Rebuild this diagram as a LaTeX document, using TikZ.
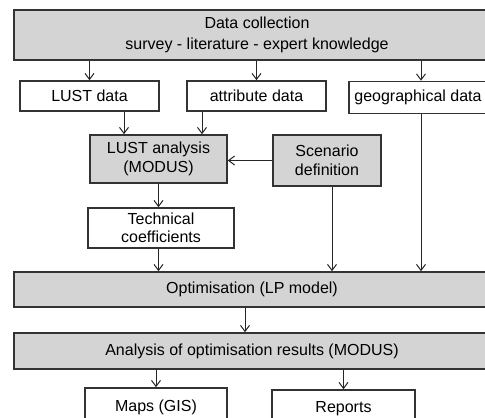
\documentclass[tikz,border=0pt]{standalone}
\usepackage{fontspec}
\setmainfont{Liberation Sans}
\usetikzlibrary{arrows.meta, positioning}

\begin{document}
\begin{tikzpicture}[x=1pt, y=-1pt, >={Straight Barb[length=6pt,width=9pt]}]
\tikzstyle{every node}=[font=\fontsize{16}{19}\selectfont, text=black]
\tikzstyle{box}=[draw=black!80, line width=1.6pt, rectangle, align=center, fill=white, inner sep=0pt]
\tikzstyle{greybox}=[box, fill=black!17]
\tikzstyle{flow}=[->, line width=1pt, color=black!85]
\useasboundingbox (0,0) rectangle (485,418);
\clip (0,0) rectangle (485,418);

\node[greybox, minimum width=486pt, minimum height=50pt, font=\fontsize{16}{21.5}\selectfont]	(data) at (257,35) {Data collection\\survey - literature - expert knowledge};
\node[box, minimum width=139pt, minimum height=30pt]	(lust) at (89.5,96) {LUST data};
\node[box, minimum width=139pt, minimum height=30pt]	(attr) at (256.5,96) {attribute data};
\node[box, minimum width=138pt, minimum height=32pt]	(geo) at (418,97.5) {geographical data};
\node[greybox, minimum width=137pt, minimum height=48pt]	(ana) at (158.5,159) {LUST analysis\\(MODUS)};
\node[greybox, minimum width=108pt, minimum height=51pt]	(scen) at (327,160.5) {Scenario\\definition};
\node[box, minimum width=146pt, minimum height=40pt, font=\fontsize{16}{18}\selectfont]	(tech) at (161,228) {Technical\\coefficients};
\node[greybox, minimum width=476pt, minimum height=35pt]	(opt) at (252,289.5) {Optimisation (LP model)};
\node[greybox, minimum width=476pt, minimum height=36pt]	(res) at (252,351) {Analysis of optimisation results (MODUS)};
\node[box, minimum width=142pt, minimum height=38pt]	(maps) at (156,407) {Maps (GIS)};
\node[box, minimum width=143pt, minimum height=38pt]	(rep) at (343.5,409) {Reports};

% feet of the arrows that leave a box off its centre
\coordinate (lustout) at ([xshift=34.5pt]lust.south);
\coordinate (attrout) at ([xshift=-54.5pt]attr.south);
\coordinate (scenout) at ([xshift=5pt]scen.south);
\coordinate (geoout) at ([xshift=3pt]geo.south);
\coordinate (optout) at ([xshift=-7pt]opt.south);

\path[flow]
(data.south -| lust) edge		(lust.north)
(data.south -| attr) edge		(attr.north)
(data.south -| geoout) edge		(geoout |- geo.north)
(lustout) edge		(lustout |- ana.north)
(attrout) edge		(attrout |- ana.north)
(scen.west) edge		(scen.west -| ana.east)
(ana.south) edge		(ana.south |- tech.north)
(ana.south |- tech.south) edge		(ana.south |- opt.north)
(scenout) edge		(scenout |- opt.north)
(geoout) edge		(geoout |- opt.north)
(optout) edge		(optout |- res.north)
(res.south -| maps) edge		(maps.north)
(res.south -| rep) edge		(rep.north);
\end{tikzpicture}
\end{document}
